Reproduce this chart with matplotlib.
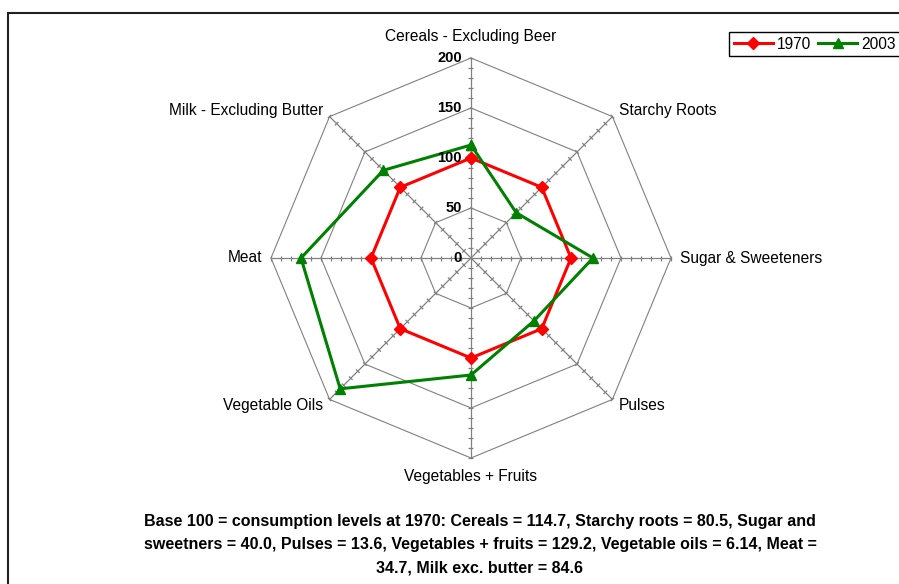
import numpy as np
import matplotlib.pyplot as plt
from matplotlib.collections import LineCollection
from matplotlib.patches import Rectangle

plt.rcParams['font.family'] = ['Liberation Sans', 'DejaVu Sans']

# --- data ---
categories = ["Cereals - Excluding Beer", "Starchy Roots", "Sugar & Sweeteners", "Pulses",
              "Vegetables + Fruits", "Vegetable Oils", "Meat", "Milk - Excluding Butter"]
v1970 = [100, 100, 100, 100, 100, 100, 100, 100]
v2003 = [113, 64, 122, 89, 117, 185, 170, 124]
grid_levels = [50, 100, 150, 200]
rmax = 200
note = ("Base 100 = consumption levels at 1970: Cereals = 114.7, Starchy roots = 80.5, Sugar and\n"
        "sweetners = 40.0, Pulses = 13.6, Vegetables + fruits = 129.2, Vegetable oils = 6.14, Meat =\n"
        "34.7, Milk exc. butter = 84.6")

n = len(categories)
theta = np.pi / 2 - np.arange(n) * 2 * np.pi / n
cs, sn = np.cos(theta), np.sin(theta)

W, H = 899, 584
fig = plt.figure(figsize=(W / 100, H / 100), dpi=100)
# centre of the radar at pixel (471, 258), 1 unit ~ 1 px
cx, cy = 471, 258
half = 251
ax = fig.add_axes([(cx - half) / W, (H - cy - half) / H, 2 * half / W, 2 * half / H])
ax.set_xlim(-half, half)
ax.set_ylim(-half, half)
ax.set_aspect('equal')
ax.axis('off')

grey = '#808080'
# polygon grid
for lv in grid_levels:
    ax.plot(np.append(lv * cs, lv * cs[0]), np.append(lv * sn, lv * sn[0]),
            color=grey, lw=0.8, zorder=1)
# spokes
for k in range(n):
    ax.plot([0, rmax * cs[k]], [0, rmax * sn[k]], color=grey, lw=0.9, zorder=1)
# tick marks every 10 along each spoke
segs = []
for k in range(n):
    for r in range(10, rmax + 1, 10):
        px, py = r * cs[k], r * sn[k]
        nx, ny = -sn[k], cs[k]
        segs.append([(px - 2.5 * nx, py - 2.5 * ny), (px + 2.5 * nx, py + 2.5 * ny)])
ax.add_collection(LineCollection(segs, colors=grey, linewidths=0.9, zorder=1))

# data
ax.plot(np.append(v1970 * cs, v1970[0] * cs[0]), np.append(v1970 * sn, v1970[0] * sn[0]),
        color='#FF0000', lw=2.2, marker='D', ms=6, zorder=3, label='1970')
ax.plot(np.append(v2003 * cs, v2003[0] * cs[0]), np.append(v2003 * sn, v2003[0] * sn[0]),
        color='#008000', lw=2.2, marker='^', ms=7.5, zorder=4, label='2003')

# radial value labels
for lv in [0] + grid_levels:
    ax.text(-9, lv, str(lv), ha='right', va='center', fontsize=10.5, fontweight='bold', zorder=5)

# category labels
for k, name in enumerate(categories):
    r = 209
    ha = 'left' if cs[k] > 0.1 else ('right' if cs[k] < -0.1 else 'center')
    if sn[k] > 0.9:
        va, r = 'bottom', 214
    elif sn[k] < -0.9:
        va, r = 'top', 211
    else:
        va = 'center'
    ax.text(r * cs[k], r * sn[k], name, ha=ha, va=va, fontsize=11.2, zorder=5)

# legend
leg = fig.legend(loc='upper left', bbox_to_anchor=(729 / W, 1 - 32 / H), ncol=2,
                 fontsize=11.2, frameon=True, fancybox=False, framealpha=1,
                 handlelength=2.5, columnspacing=0.5, handletextpad=0.25,
                 borderpad=0.3, borderaxespad=0)
leg.get_frame().set_edgecolor('black')
leg.get_frame().set_linewidth(1.0)

# note below the chart
fig.text(480 / W, 1 - 545 / H, note, ha='center', va='center', fontsize=11.5,
         fontweight='bold', linespacing=1.68)

# outer chart frame (runs off the right and bottom edges)
fig.patches.append(Rectangle((8 / W, -0.1), 1.2, 1.1 - 13 / H, transform=fig.transFigure,
                             fill=False, edgecolor='#202020', lw=1.5))

fig.savefig('out.png', dpi=100)
